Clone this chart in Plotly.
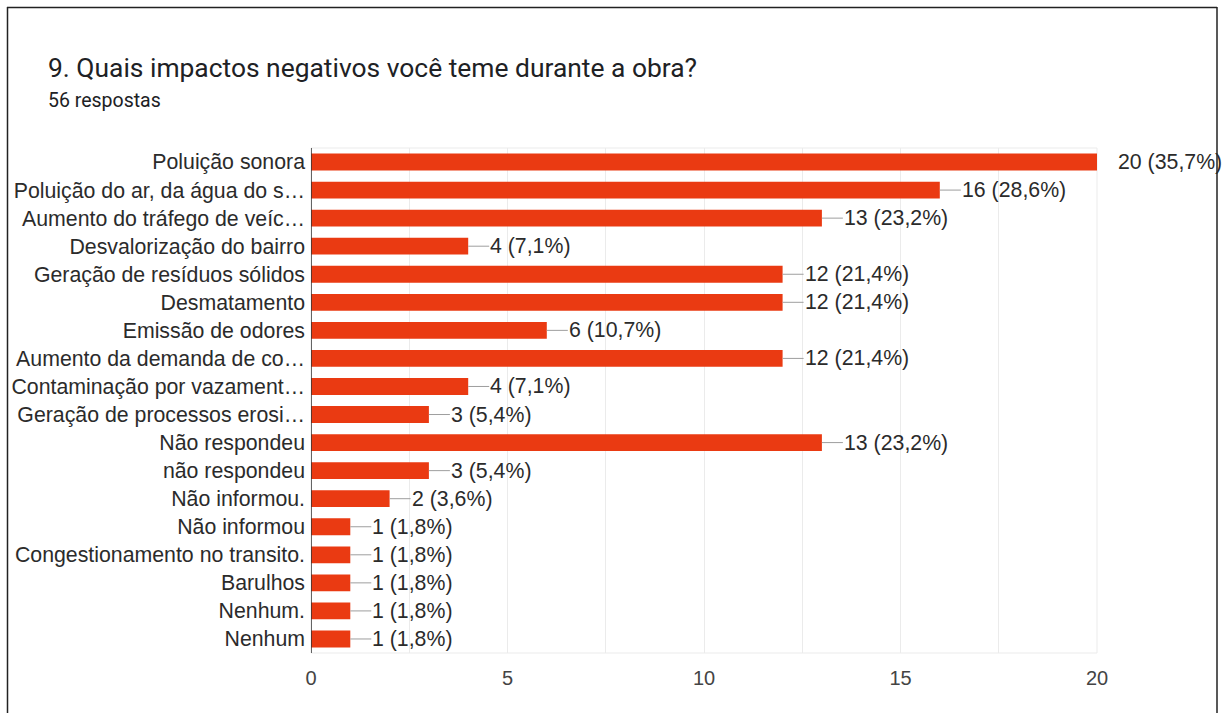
import plotly.graph_objects as go

categories = [
    "Poluição sonora",
    "Poluição do ar, da água do s…",
    "Aumento do tráfego de veíc…",
    "Desvalorização do bairro",
    "Geração de resíduos sólidos",
    "Desmatamento",
    "Emissão de odores",
    "Aumento da demanda de co…",
    "Contaminação por vazament…",
    "Geração de processos erosi…",
    "Não respondeu",
    "não respondeu",
    "Não informou.",
    "Não informou",
    "Congestionamento no transito.",
    "Barulhos",
    "Nenhum.",
    "Nenhum",
]
counts = [20, 16, 13, 4, 12, 12, 6, 12, 4, 3, 13, 3, 2, 1, 1, 1, 1, 1]
total_responses = 56
x_ticks = [0, 5, 10, 15, 20]

title_text = "9. Quais impactos negativos você teme durante a obra?"
subtitle_text = f"{total_responses} respostas"

BAR_COLOR = "#EA3A12"
TEXT_COLOR = "#2b2b2b"
TITLE_FONT = "Roboto, Arial, sans-serif"
CHART_FONT = "Liberation Sans, Arial, sans-serif"

W, H = 1225, 713
ML, MR, MT, MB = 311, 128, 148, 60
PW = W - ML - MR
PH = H - MT - MB


def px_to_paper_x(px):
    return (px - ML) / PW


def px_to_paper_y(py):
    return (H - MB - py) / PH


fig = go.Figure()
fig.add_trace(go.Bar(
    x=counts,
    y=categories,
    orientation="h",
    marker=dict(color=BAR_COLOR, line=dict(width=0)),
    hoverinfo="skip",
))

xmax = max(x_ticks)
annotations = []
for cat, c in zip(categories, counts):
    pct = f"{c / total_responses * 100:.1f}".replace(".", ",")
    label = f"{c} ({pct}%)"
    if c >= xmax:
        annotations.append(dict(
            x=c, y=cat, xref="x", yref="y", text=label, showarrow=False,
            xanchor="left", xshift=19, font=dict(family=CHART_FONT, size=21.3, color=TEXT_COLOR),
        ))
    else:
        annotations.append(dict(
            x=c, y=cat, xref="x", yref="y", text=label, showarrow=True,
            arrowhead=0, arrowwidth=1, arrowcolor="#9e9e9e", ax=21, ay=0,
            standoff=0, startstandoff=0, xanchor="left", borderpad=0,
            font=dict(family=CHART_FONT, size=21.3, color=TEXT_COLOR),
        ))

annotations.append(dict(
    xref="paper", yref="paper", x=px_to_paper_x(46), y=px_to_paper_y(68),
    text=title_text, showarrow=False, xanchor="left", yanchor="middle",
    font=dict(family=TITLE_FONT, size=26.4, color="#202124"),
))
annotations.append(dict(
    xref="paper", yref="paper", x=px_to_paper_x(46), y=px_to_paper_y(101),
    text=subtitle_text, showarrow=False, xanchor="left", yanchor="middle",
    font=dict(family=TITLE_FONT, size=19.5, color="#202124"),
))

shapes = [
    # outer border (top, left, right)
    dict(type="line", xref="paper", yref="paper",
         x0=px_to_paper_x(7), x1=px_to_paper_x(1217), y0=px_to_paper_y(7.5), y1=px_to_paper_y(7.5),
         line=dict(color="#222222", width=1.5)),
    dict(type="line", xref="paper", yref="paper",
         x0=px_to_paper_x(7.5), x1=px_to_paper_x(7.5), y0=px_to_paper_y(7), y1=px_to_paper_y(720),
         line=dict(color="#222222", width=1.5)),
    dict(type="line", xref="paper", yref="paper",
         x0=px_to_paper_x(1217), x1=px_to_paper_x(1217), y0=px_to_paper_y(7), y1=px_to_paper_y(720),
         line=dict(color="#222222", width=1.5)),
    # light plot frame
    dict(type="rect", xref="paper", yref="paper", x0=0, x1=1, y0=0, y1=1,
         line=dict(color="#ebebeb", width=1), layer="below"),
]

fig.update_layout(
    width=W, height=H,
    margin=dict(l=ML, r=MR, t=MT, b=MB, pad=0, autoexpand=False),
    paper_bgcolor="white", plot_bgcolor="white",
    showlegend=False,
    bargap=0.4,
    annotations=annotations,
    shapes=shapes,
    font=dict(family=CHART_FONT, color=TEXT_COLOR),
    xaxis=dict(
        range=[0, xmax], tickvals=x_ticks, ticktext=[str(t) for t in x_ticks],
        showgrid=True, gridcolor="#ebebeb", gridwidth=1,
        minor=dict(dtick=2.5, showgrid=True, gridcolor="#ebebeb", gridwidth=1),
        zeroline=False, showline=False, ticks="", ticklen=0,
        tickfont=dict(family=CHART_FONT, size=20, color="#444444"),
        ticklabelstandoff=11,
        automargin=False,
        fixedrange=True,
    ),
    yaxis=dict(
        categoryorder="array", categoryarray=categories, autorange="reversed",
        showgrid=False, zeroline=False,
        showline=False, ticks="", ticklen=0,
        tickfont=dict(family=CHART_FONT, size=21.3, color=TEXT_COLOR),
        ticklabelstandoff=5,
        automargin=False,
        fixedrange=True,
    ),
)

# dark baseline at x=0
fig.add_shape(type="line", xref="x", yref="paper", x0=0, x1=0, y0=0, y1=1,
              line=dict(color="#333333", width=1.5))

fig.write_html(
    "out.html",
    config={"displayModeBar": False},
    post_script="document.body.style.margin='0';document.body.style.overflow='hidden';",
)
